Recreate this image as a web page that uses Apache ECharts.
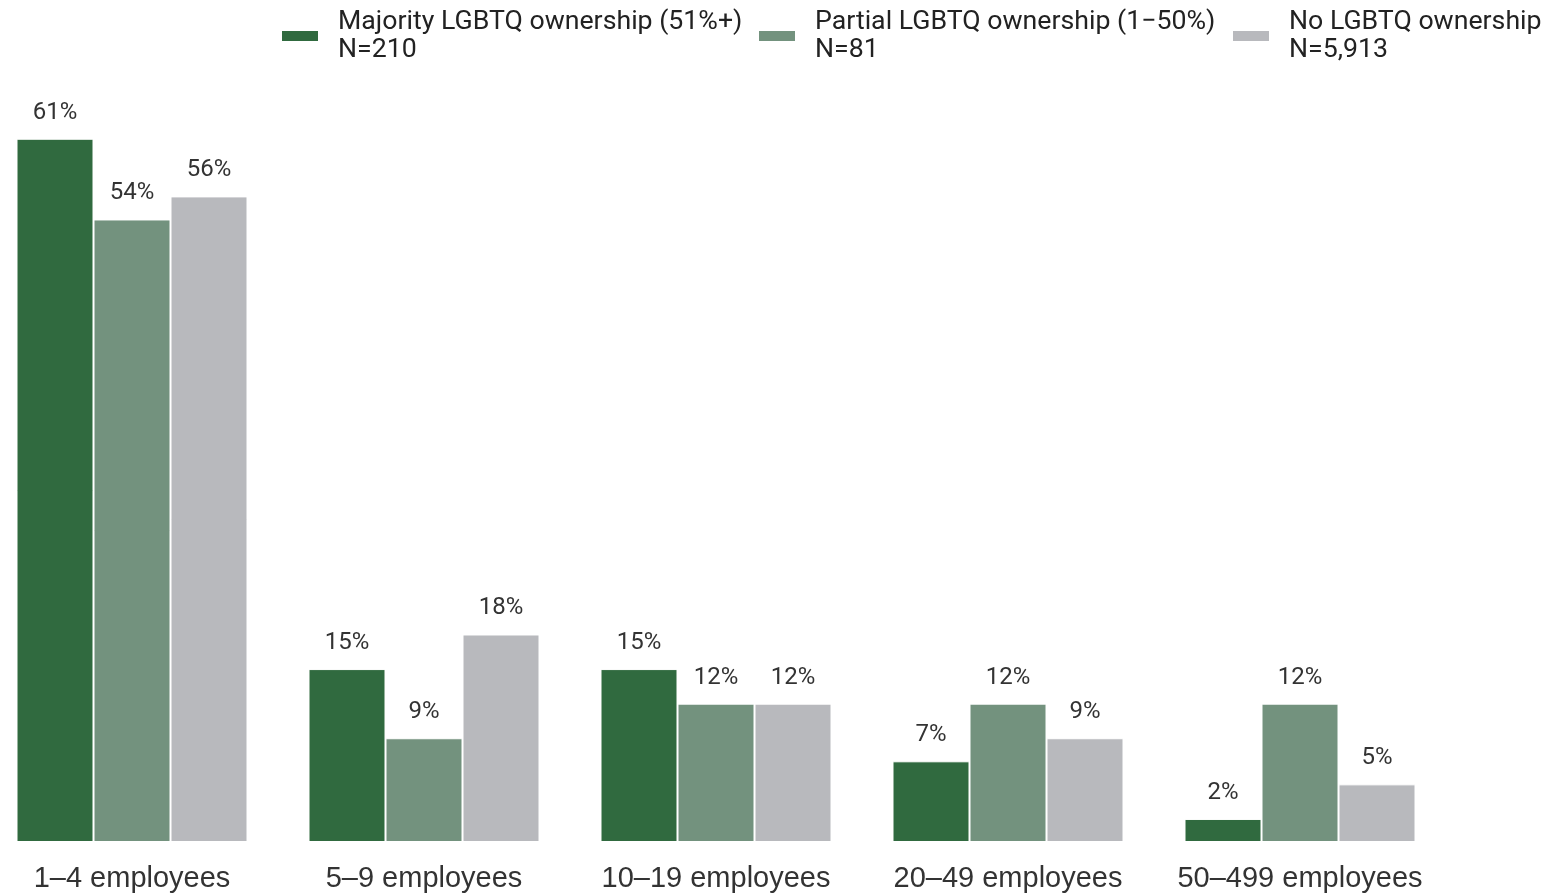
<!DOCTYPE html>
<html>
<head>
<meta charset="utf-8">
<script src="https://cdn.jsdelivr.net/npm/echarts@6/dist/echarts.min.js"></script>
<style>
html,body{margin:0;padding:0;background:#fff;}
#chart{width:1553px;height:894px;}
</style>
</head>
<body>
<div id="chart"></div>
<script>
const categories = ['1–4 employees', '5–9 employees', '10–19 employees', '20–49 employees', '50–499 employees'];
const seriesNames = ['Majority LGBTQ ownership (51%+)', 'Partial LGBTQ ownership (1−50%)', 'No LGBTQ ownership'];
const sampleSizes = ['N=210', 'N=81', 'N=5,913'];
const majority = [61, 15, 15, 7, 2];
const partial = [54, 9, 12, 12, 12];
const none = [56, 18, 12, 9, 5];
const colors = ['#306a3f', '#73927e', '#b8b9bd'];

const values = [majority, partial, none];
const legendLefts = [275, 752, 1226];

const chart = echarts.init(document.getElementById('chart'));
chart.setOption({
  animation: false,
  backgroundColor: '#ffffff',
  legend: seriesNames.map((name, i) => ({
    data: [name],
    left: legendLefts[i],
    top: 3,
    itemWidth: 38,
    itemHeight: 12,
    icon: 'rect',
    formatter: n => n + '\n' + sampleSizes[i],
    textStyle: {
      fontFamily: 'Roboto',
      fontSize: 26.7,
      lineHeight: 28,
      color: '#222',
      padding: [0, 0, 0, 14]
    }
  })),
  grid: { left: 132, right: 253, top: 35, bottom: 52, containLabel: false },
  xAxis: {
    type: 'category',
    data: categories,
    boundaryGap: false,
    axisLine: { show: false },
    axisTick: { show: false },
    axisLabel: {
      interval: 0,
      fontFamily: 'Liberation Sans',
      fontSize: 29,
      color: '#333',
      margin: 22
    }
  },
  yAxis: {
    type: 'value',
    min: 0,
    max: 70,
    show: false,
    splitLine: { show: false }
  },
  series: seriesNames.map((name, i) => ({
    name: name,
    type: 'bar',
    data: values[i],
    barWidth: 77,
    barGap: '0%',
    itemStyle: { color: colors[i], borderColor: '#fff', borderWidth: 1 },
    label: {
      show: true,
      position: 'top',
      distance: 14,
      formatter: p => p.value + '%',
      fontFamily: 'Roboto',
      fontSize: 24,
      color: '#333'
    }
  }))
});
</script>
</body>
</html>
